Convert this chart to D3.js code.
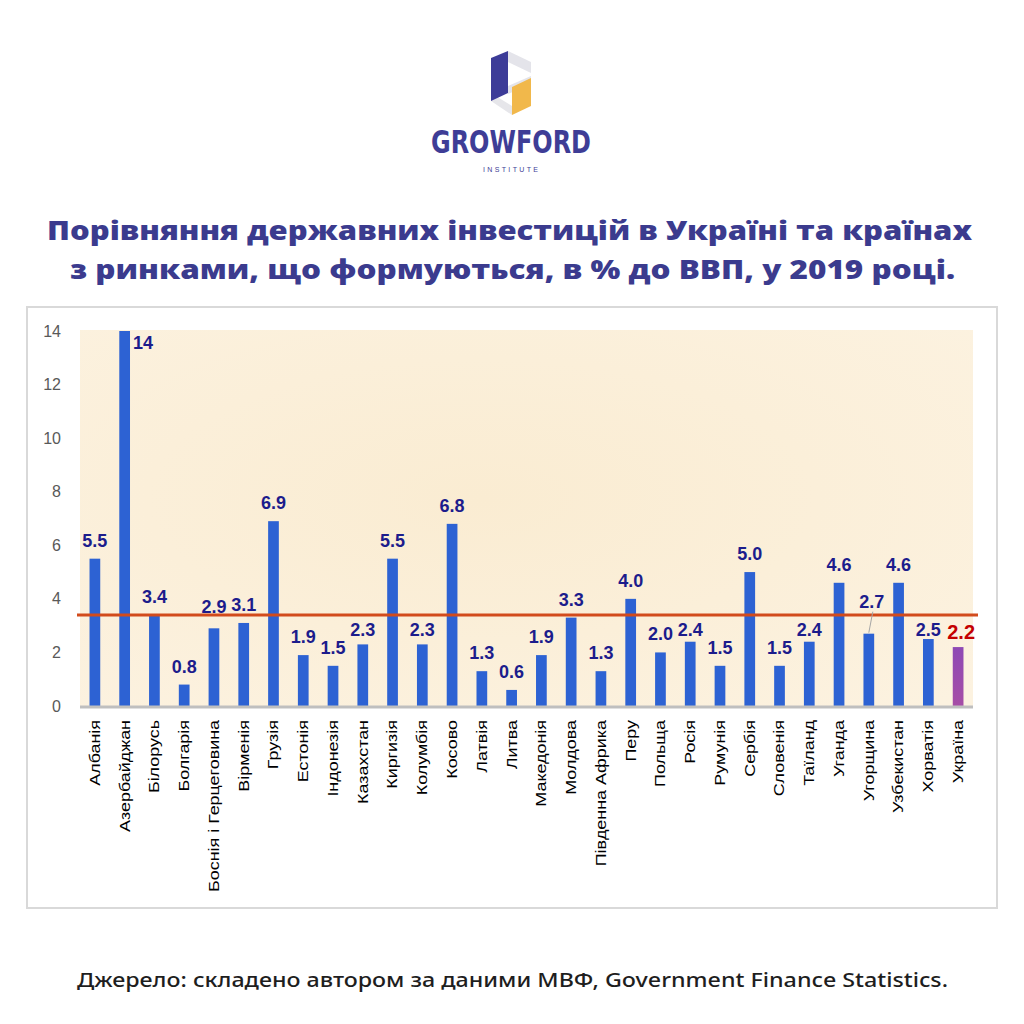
<!DOCTYPE html>
<html>
<head>
<meta charset="utf-8">
<script src="https://cdn.jsdelivr.net/npm/d3@7"></script>
<style>
  html, body { margin: 0; padding: 0; background: #ffffff; }
  svg { display: block; }
</style>
</head>
<body>
<svg id="chart" width="1024" height="1024"></svg>
<script>
const categories = ["Албанія","Азербайджан","Білорусь","Болгарія","Боснія і Герцеговина","Вірменія","Грузія","Естонія","Індонезія","Казахстан","Киргизія","Колумбія","Косово","Латвія","Литва","Македонія","Молдова","Південна Африка","Перу","Польща","Росія","Румунія","Сербія","Словенія","Таїланд","Уганда","Угорщина","Узбекистан","Хорватія","Україна"];
const values = [5.5,14,3.4,0.8,2.9,3.1,6.9,1.9,1.5,2.3,5.5,2.3,6.8,1.3,0.6,1.9,3.3,1.3,4.0,2.0,2.4,1.5,5.0,1.5,2.4,4.6,2.7,4.6,2.5,2.2];
const valueLabels = ["5.5","14","3.4","0.8","2.9","3.1","6.9","1.9","1.5","2.3","5.5","2.3","6.8","1.3","0.6","1.9","3.3","1.3","4.0","2.0","2.4","1.5","5.0","1.5","2.4","4.6","2.7","4.6","2.5","2.2"];
const averageValue = 3.4;
const yTickValues = [0,2,4,6,8,10,12,14];
const highlightCategory = "Україна";
const leaderCategory = "Угорщина";
const titleLines = ["Порівняння державних інвестицій в Україні та країнах", "з ринками, що формуються, в % до ВВП, у 2019 році."];
const sourceText = "Джерело: складено автором за даними МВФ, Government Finance Statistics.";

const svg = d3.select("#chart");
const navy = "#3b3b8e";

// ---------- Logo ----------
const logo = svg.append("g");
const polys = [
  {pts: [[508,51],[531,62],[531,73],[508,62]], fill: "#e4e4ea"},
  {pts: [[508,86],[531,76],[531,84],[508,94]], fill: "#e4e4ea"},
  {pts: [[491,101],[512,115],[512,106],[491,93]], fill: "#e6e6ea"},
  {pts: [[491,58],[508,51],[508,93],[491,101]], fill: "#3d3c98"},
  {pts: [[512,87],[531,78],[531,106],[512,115]], fill: "#f1b84b"}
];
logo.selectAll("polygon").data(polys).join("polygon")
  .attr("points", d => d.pts.map(p => p.join(",")).join(" "))
  .attr("fill", d => d.fill);
logo.append("text")
  .attr("x", 431).attr("y", 153)
  .attr("textLength", 160).attr("lengthAdjust", "spacingAndGlyphs")
  .style("font-family", "'Liberation Sans Narrow','DejaVu Sans Condensed','Liberation Sans',sans-serif")
  .style("font-size", "32px").style("font-weight", "bold")
  .attr("fill", "#3e3d96").text("GROWFORD");
logo.append("text")
  .attr("x", 483).attr("y", 172)
  .attr("textLength", 55).attr("lengthAdjust", "spacing")
  .style("font-family", "'Liberation Sans',sans-serif")
  .style("font-size", "7px")
  .attr("fill", "#3e3d96").text("INSTITUTE");

// ---------- Title ----------
svg.append("text")
  .attr("x", 47).attr("y", 240)
  .attr("textLength", 925).attr("lengthAdjust", "spacingAndGlyphs")
  .style("font-family", "'Open Sans','Noto Sans',sans-serif")
  .style("font-size", "26px").style("font-weight", "800")
  .attr("fill", navy).text(titleLines[0]);
svg.append("text")
  .attr("x", 70).attr("y", 279)
  .attr("textLength", 885).attr("lengthAdjust", "spacingAndGlyphs")
  .style("font-family", "'Open Sans','Noto Sans',sans-serif")
  .style("font-size", "26px").style("font-weight", "800")
  .attr("fill", navy).text(titleLines[1]);

// ---------- Chart frame ----------
svg.append("rect")
  .attr("x", 27).attr("y", 307).attr("width", 970).attr("height", 601)
  .attr("fill", "#ffffff").attr("stroke", "#d9d9d9").attr("stroke-width", 2);

const plot = {left: 80, right: 973, top: 330, bottom: 706};

const defs = svg.append("defs");
const bg = defs.append("radialGradient").attr("id", "bgGrad")
  .attr("cx", "45%").attr("cy", "45%").attr("r", "75%");
bg.append("stop").attr("offset", "0%").attr("stop-color", "#faecd2");
bg.append("stop").attr("offset", "100%").attr("stop-color", "#fcf2e0");
const ug = defs.append("linearGradient").attr("id", "ukrGrad")
  .attr("x1", "0").attr("y1", "0").attr("x2", "0").attr("y2", "1");
ug.append("stop").attr("offset", "0%").attr("stop-color", "#8e49b5");
ug.append("stop").attr("offset", "100%").attr("stop-color", "#a64da6");

svg.append("rect")
  .attr("x", plot.left).attr("y", plot.top)
  .attr("width", plot.right - plot.left).attr("height", plot.bottom - plot.top)
  .attr("fill", "url(#bgGrad)");

const x = d3.scaleBand().domain(categories).range([plot.left, plot.right])
  .paddingInner(0.64).paddingOuter(0.32);
const y = d3.scaleLinear().domain([0, 14]).range([plot.bottom, plot.top + 1]);

// Y axis labels
const yAxis = d3.axisLeft(y).tickValues(yTickValues).tickSize(0).tickPadding(0).tickFormat(d3.format("d"));
const yg = svg.append("g").attr("transform", `translate(61,0)`).call(yAxis);
yg.select(".domain").remove();
yg.selectAll("text")
  .style("font-family", "'Liberation Sans',Arial,sans-serif")
  .style("font-size", "16px").attr("fill", "#595959");

const data = categories.map((c, i) => ({cat: c, v: values[i], label: valueLabels[i]}));

// Bars
svg.append("g").selectAll("rect").data(data).join("rect")
  .attr("x", d => x(d.cat))
  .attr("y", d => y(d.v))
  .attr("width", x.bandwidth())
  .attr("height", d => y(0) - y(d.v))
  .attr("fill", d => d.cat === highlightCategory ? "url(#ukrGrad)" : "#2d62d3");

// Category axis
svg.append("line")
  .attr("x1", plot.left).attr("x2", plot.right)
  .attr("y1", plot.bottom + 1).attr("y2", plot.bottom + 1)
  .attr("stroke", "#bfbfbf").attr("stroke-width", 3);

const xAxis = d3.axisBottom(x).tickSize(0).tickPadding(0);
const xg = svg.append("g").attr("transform", `translate(0,${plot.bottom + 14})`).call(xAxis);
xg.select(".domain").remove();
xg.selectAll(".tick text")
  .attr("y", 0).attr("dy", "0.35em")
  .attr("text-anchor", "end")
  .attr("transform", "rotate(-90) scale(1.28,1)")
  .style("font-family", "'Liberation Sans',Arial,sans-serif")
  .style("font-size", "14px").attr("fill", "#000000");

// Average line
const lineY = y(averageValue);
svg.append("line")
  .attr("x1", plot.left - 3).attr("x2", plot.right + 5)
  .attr("y1", lineY).attr("y2", lineY)
  .attr("stroke", "#d24b1c").attr("stroke-width", 3);

// Data labels
const lab = svg.append("g");
const capH = 13;
data.forEach(d => {
  const cx = x(d.cat) + x.bandwidth() / 2;
  const top = y(d.v);
  const t = lab.append("text")
    .style("font-family", "'Liberation Sans',Arial,sans-serif")
    .style("font-weight", "bold")
    .style("font-size", "18px")
    .attr("fill", "#1c1c8c")
    .attr("text-anchor", "middle")
    .text(d.label);
  if (d.v === d3.max(values)) {
    t.attr("x", x(d.cat) + x.bandwidth() + 3).attr("y", top + 18)
      .attr("text-anchor", "start");
  } else if (d.cat === highlightCategory) {
    t.attr("x", cx + 3).attr("y", top - 8)
      .style("font-size", "20px").attr("fill", "#c40000");
  } else if (d.cat === leaderCategory) {
    t.attr("x", cx + 3).attr("y", top - 26);
    lab.append("line")
      .attr("x1", cx + 4).attr("y1", top - 22)
      .attr("x2", cx).attr("y2", top - 1)
      .attr("stroke", "#a6a6a6").attr("stroke-width", 1);
  } else {
    let b = top - 12;
    if (b > lineY - 2 && b - capH < lineY + 5) {
      b = (top - lineY > 20) ? lineY + 21 : lineY - 2;
    }
    t.attr("x", cx).attr("y", b);
  }
});

// ---------- Source ----------
svg.append("text")
  .attr("x", 77).attr("y", 987)
  .attr("textLength", 871).attr("lengthAdjust", "spacingAndGlyphs")
  .style("font-family", "'Noto Sans','Open Sans',sans-serif")
  .style("font-size", "19px").style("font-weight", "500")
  .attr("fill", "#1e1e1e").text(sourceText);
</script>
</body>
</html>
